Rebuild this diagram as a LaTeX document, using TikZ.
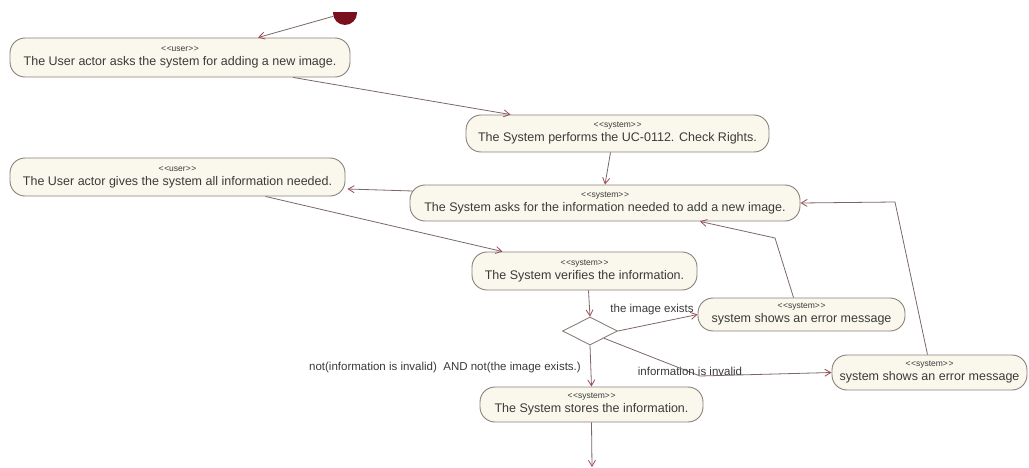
\documentclass[tikz,border=0pt]{standalone}
\usepackage{fontspec}
\setmainfont{Liberation Sans}
\usetikzlibrary{shapes.geometric,arrows.meta,calc}

\definecolor{boxfill}{HTML}{FAF8EC}
\definecolor{boxline}{HTML}{8A807A}
\definecolor{flowline}{HTML}{7A6868}
\definecolor{tipred}{HTML}{A04A55}
\definecolor{startred}{HTML}{7A0F1E}
\definecolor{txt}{HTML}{3A3A3A}

\tikzset{
  action/.style={draw=boxline, fill=boxfill, line width=0.9pt, rounded corners=15pt,
    inner sep=0pt, align=center, text=txt, font=\fontsize{12.5}{14}\selectfont},
  flow/.style={draw=flowline, line width=0.8pt,
    -{Straight Barb[length=6pt,width=7pt,color=tipred]}},
  guard/.style={text=txt, font=\fontsize{11.5}{13}\selectfont, inner sep=1pt},
  decision/.style={diamond, draw=boxline, fill=white, line width=0.9pt,
    minimum width=55pt, minimum height=28pt, inner sep=0pt}
}
% stereotype line: separate angle brackets, no guillemet ligature
\newcommand{\stereo}[1]{{\fontsize{8.5}{9}\selectfont <\kern0.6pt<#1>\kern0.6pt>}}

\begin{document}
\begin{tikzpicture}[x=1pt, y=-1pt]
\useasboundingbox (0,0) rectangle (1029,468);
\fill[white] (0,0) rectangle (1029,468);

% initial node, cut by the top of the sheet
\begin{scope}
  \clip (330,13) rectangle (360,30);
  \node[circle, fill=startred, minimum size=24pt, inner sep=0pt] (start) at (345,13) {};
\end{scope}

% actions
\node[action, minimum width=340pt, minimum height=39pt] (n1) at (180,57.5)
  {\stereo{user}\\The User actor asks the system for adding a new image.};
\node[action, minimum width=303pt, minimum height=37pt] (n2) at (617.5,133.5)
  {\stereo{system}\\The System performs the UC-0112. Check Rights.};
\node[action, minimum width=390pt, minimum height=36pt] (n3) at (605,203)
  {\stereo{system}\\The System asks for the information needed to add a new image.};
\node[action, minimum width=335pt, minimum height=38pt] (n4) at (177.5,177)
  {\stereo{user}\\The User actor gives the system all information needed.};
\node[action, minimum width=225pt, minimum height=38pt] (n5) at (584.5,271)
  {\stereo{system}\\The System verifies the information.};
\node[decision] (d) at (590,331) {};
\node[action, minimum width=207pt, minimum height=33pt] (n6) at (801.5,314.5)
  {\stereo{system}\\system shows an error message};
\node[action, minimum width=195pt, minimum height=35pt] (n7) at (929.5,372.5)
  {\stereo{system}\\system shows an error message};
\node[action, minimum width=223pt, minimum height=35pt] (n8) at (591.5,404.5)
  {\stereo{system}\\The System stores the information.};

% bend points and the open end
\coordinate (b1) at (775,238);
\coordinate (b2) at (895,202);
\coordinate (b3) at (700,376);
\coordinate (exit) at (592,467);

% control flow
\draw[flow] (start) -- ($(n1.north)+(78,0)$);
\draw[flow] ($(n1.south)+(113,0)$) -- ($(n2.north)+(-107,0)$);
\draw[flow] ($(n2.south)+(-7,0)$) -- (n3.north);
\draw[flow] ($(n3.west)+(3,-12)$) -- ($(n4.east)+(2,12)$);
\draw[flow] ($(n4.south)+(88,0)$) -- ($(n5.north)+(-82,0)$);
\draw[flow] ($(n5.south)+(4,0)$) -- (d.north);
\draw[flow] (d.east) -- (n6.west);
\draw[flow] ($(n6.north)+(-8,0)$) -- (b1) -- ($(n3.south)+(95,0)$);
\draw[flow] ($(n7.north)+(-2,0)$) -- (b2) -- (n3.east);
\draw[flow] (d.south east) -- (b3) -- (n7.west);
\draw[flow] (d.south) -- (n8.north);
\draw[flow] (n8.south) -- (exit);

% guards
\node[guard] (g1) at (652,310) {the image exists};
\node[guard] (g2) at (690,371) {information is invalid};
\node[guard, anchor=east] (g3) at (582,368) {not(information is invalid)\ \ AND not(the image exists.)};
\end{tikzpicture}
\end{document}
